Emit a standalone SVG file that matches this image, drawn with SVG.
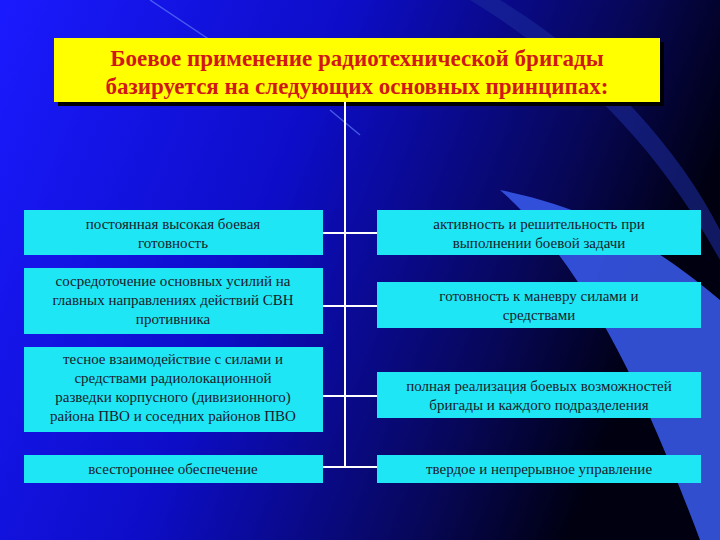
<svg xmlns="http://www.w3.org/2000/svg" width="720" height="540" viewBox="0 0 720 540">
<defs>
<linearGradient id="bg" x1="0" y1="0" x2="1" y2="0.3">
<stop offset="0" stop-color="#1a1aff"/>
<stop offset="0.45" stop-color="#0d0dc8"/>
<stop offset="0.8" stop-color="#07075a"/>
<stop offset="1" stop-color="#000010"/>
</linearGradient>
<style>
.box{fill:#1ee6f5;}
.t{font-family:"Liberation Serif",serif;font-size:15px;fill:#1a1a2a;text-anchor:middle;}
.title{font-family:"Liberation Serif",serif;font-size:23px;font-weight:bold;fill:#d01818;text-anchor:middle;}
.c{stroke:#ffffff;stroke-width:2;fill:none;}
</style>
</defs>
<rect width="720" height="540" fill="url(#bg)"/>
<path d="M500,190 C580,260 640,380 700,540 L720,540 L720,300 C660,250 600,210 500,190 Z" fill="#3a5cf0" opacity="0.85"/>
<path d="M500,0 C600,60 680,150 720,230 L720,260 C670,170 600,80 470,0 Z" fill="#1b2a9a" opacity="0.6"/>
<path d="M150,0 L210,40 M330,110 L360,135" stroke="#6a8cff" stroke-width="1.5" opacity="0.6"/>
<g id="title">
<rect x="58" y="42" width="606" height="64" fill="#000"/>
<rect x="54" y="38" width="606" height="64" fill="#ffff00"/>
<text class="title" x="357" y="66">Боевое применение радиотехнической бригады</text>
<text class="title" x="357" y="94">базируется на следующих основных принципах:</text>
</g>
<g id="connectors">
<line class="c" x1="345" y1="102" x2="345" y2="468"/>
<line class="c" x1="323" y1="233" x2="377" y2="233"/>
<line class="c" x1="323" y1="306" x2="377" y2="306"/>
<line class="c" x1="323" y1="396" x2="377" y2="396"/>
<line class="c" x1="323" y1="467" x2="377" y2="467"/>
</g>
<g id="l1"><rect class="box" x="24" y="210" width="299" height="45"/>
<text class="t" x="173" y="229">постоянная высокая боевая</text><text class="t" x="173" y="248">готовность</text></g>
<g id="l2"><rect class="box" x="24" y="268" width="299" height="66"/>
<text class="t" x="173" y="286">сосредоточение основных усилий на</text><text class="t" x="173" y="305">главных направлениях действий СВН</text><text class="t" x="173" y="324">противника</text></g>
<g id="l3"><rect class="box" x="24" y="347" width="299" height="85"/>
<text class="t" x="173" y="364">тесное взаимодействие с силами и</text><text class="t" x="173" y="383">средствами радиолокационной</text><text class="t" x="173" y="402">разведки корпусного (дивизионного)</text><text class="t" x="173" y="421">района ПВО и соседних районов ПВО</text></g>
<g id="l4"><rect class="box" x="24" y="455" width="299" height="28"/>
<text class="t" x="173" y="474">всестороннее обеспечение</text></g>
<g id="r1"><rect class="box" x="377" y="210" width="324" height="45"/>
<text class="t" x="539" y="229">активность и решительность при</text><text class="t" x="539" y="248">выполнении боевой задачи</text></g>
<g id="r2"><rect class="box" x="377" y="282" width="324" height="46"/>
<text class="t" x="539" y="301">готовность к маневру силами и</text><text class="t" x="539" y="320">средствами</text></g>
<g id="r3"><rect class="box" x="377" y="372" width="324" height="46"/>
<text class="t" x="539" y="391">полная реализация боевых возможностей</text><text class="t" x="539" y="410">бригады и каждого подразделения</text></g>
<g id="r4"><rect class="box" x="377" y="455" width="324" height="28"/>
<text class="t" x="539" y="474">твердое и непрерывное управление</text></g>
</svg>
